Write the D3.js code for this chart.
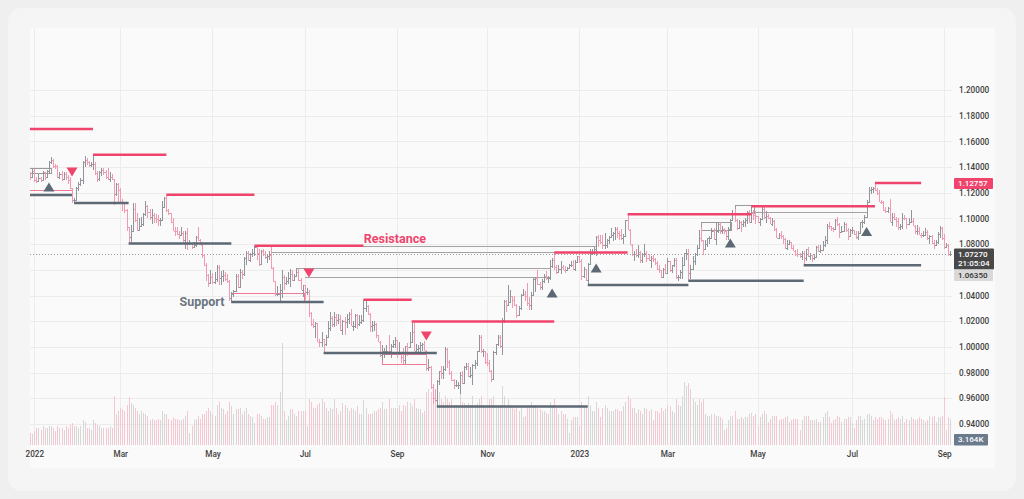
<!DOCTYPE html>
<html><head><meta charset="utf-8">
<script src="https://cdn.jsdelivr.net/npm/d3@7"></script>
<style>
html,body{margin:0;padding:0;background:#efefef;}
svg{display:block;font-family:Roboto,"Noto Sans",Arial,sans-serif;}
</style></head><body>
<svg id="chart" width="1024" height="499"></svg>
<script>
// ---------- DATA (daily EURUSD bars: [close, high, low, volume], prices in 1e-4 units) ----------
const firstOpen = 11325;
const m2021_12 = [[11310,11345,11300,40],[11350,11370,11300,45],[11325,11360,11300,40],[11370,11385,11315,35]];
const m2022_01 = [[11300,11386,11280,45],[11289,11320,11273,55],[11313,11346,11285,55],[11296,11320,11285,50],[11360,11370,11290,60],
[11326,11360,11300,55],[11367,11375,11312,55],[11440,11447,11355,60],[11455,11482,11425,60],[11410,11465,11395,55],
[11408,11425,11385,45],[11325,11415,11315,60],[11345,11365,11310,55],[11311,11370,11295,55],[11345,11365,11300,50],
[11325,11365,11300,60],[11300,11340,11265,55],[11240,11320,11230,65],[11145,11240,11122,70],[11145,11160,11121,60],
[11235,11245,11140,60]];
const m2022_02 = [[11270,11280,11215,55],[11300,11315,11250,60],[11440,11451,11270,80],[11455,11483,11400,75],
[11440,11470,11415,55],[11415,11450,11400,55],[11425,11440,11400,50],[11425,11495,11375,80],[11350,11440,11340,70],
[11305,11370,11280,65],[11360,11370,11290,60],[11375,11395,11330,55],[11360,11395,11335,55],[11320,11375,11310,55],
[11310,11395,11300,55],[11325,11360,11285,60],[11310,11345,11300,55],[11190,11275,11106,160],[11270,11275,11175,100],
[11220,11275,11120,110]];
const m2022_03 = [[11125,11235,11110,120],[11120,11150,11055,115],[11065,11125,11040,110],[10930,11070,10900,130],
[10855,10935,10806,155],[10905,10950,10820,135],[11075,11120,10900,130],[10985,11120,10975,120],[10910,11045,10905,110],
[10940,11000,10900,100],[10955,11010,10930,110],[11035,11045,10940,105],[11095,11135,11020,100],[11050,11105,11000,95],
[11015,11070,10990,80],[11030,11070,10960,85],[11005,11040,10965,80],[10995,11035,10965,80],[10985,11030,10945,85],
[10985,11000,10945,80],[11090,11135,10980,110],[11160,11170,11090,100],[11065,11185,11050,100]];
const m2022_04 = [[11045,11075,11025,85],[10970,11045,10965,80],[10905,11000,10900,90],[10900,10935,10865,85],[10880,10935,10870,85],[10875,10905,10840,80],
[10885,10935,10860,80],[10830,10905,10815,85],[10890,10900,10760,95],[10810,10925,10757,110],[10810,10830,10795,40],
[10780,10810,10760,60],[10790,10820,10770,80],[10855,10865,10780,85],[10835,10935,10825,95],[10795,10840,10790,85],
[10715,10815,10695,100],[10640,10725,10630,100],[10560,10650,10515,110],[10500,10570,10470,120],[10545,10595,10490,110]];
const m2022_05 = [[10505,10575,10490,100],[10525,10580,10490,95],[10620,10640,10505,130],[10540,10640,10485,140],[10550,10590,10485,120],
[10560,10595,10505,115],[10530,10580,10510,100],[10515,10565,10500,110],[10380,10520,10355,140],[10410,10425,10349,125],
[10435,10445,10390,100],[10550,10565,10430,115],[10465,10565,10460,115],[10585,10605,10460,120],[10565,10595,10530,100],
[10690,10700,10555,110],[10735,10750,10640,120],[10680,10750,10670,100],[10725,10735,10660,95],[10730,10765,10700,90],
[10780,10787,10710,70],[10735,10775,10680,100]];
const m2022_06 = [[10645,10765,10627,100],[10750,10755,10640,95],[10720,10765,10705,85],
[10700,10750,10685,85],[10705,10725,10655,90],[10715,10748,10680,90],[10615,10775,10610,130],[10515,10625,10505,130],
[10410,10510,10400,140],[10415,10475,10395,130],[10445,10490,10359,170],[10545,10600,10380,330],[10495,10560,10445,110],
[10515,10545,10480,80],[10535,10580,10490,95],[10565,10605,10470,115],[10520,10595,10510,115],[10555,10570,10510,100],
[10585,10615,10545,95],[10520,10605,10510,110],[10445,10535,10440,110],[10485,10485,10385,110]];
const m2022_07 = [[10425,10485,10365,110],
[10425,10460,10405,60],[10265,10445,10235,150],[10180,10275,10162,140],[10160,10215,10145,120],[10185,10195,10070,120],
[10040,10175,10035,130],[10035,10065,10000,135],[10060,10120,9998,150],[10020,10065,9952,140],[10080,10095,10005,120],
[10145,10200,10070,110],[10225,10270,10125,120],[10180,10240,10155,115],[10230,10275,10155,150],[10210,10255,10165,120],
[10220,10255,10180,100],[10135,10250,10125,110],[10200,10210,10095,135],[10195,10235,10095,130],[10220,10255,10150,120]];
const m2022_08 = [[10260,10275,10180,110],[10165,10295,10160,120],[10165,10200,10125,115],[10245,10255,10150,110],[10180,10255,10140,125],
[10195,10245,10165,100],[10210,10250,10180,100],[10300,10368,10195,145],[10320,10368,10270,120],[10260,10330,10250,100],
[10160,10265,10120,100],[10170,10200,10120,105],[10180,10200,10125,110],[10090,10190,10070,110],[10040,10090,10035,115],
[9940,10045,9925,120],[9970,10015,9901,140],[9970,9990,9910,115],[9970,10015,9940,115],[9965,10090,9945,150],
[10005,10025,9915,120],[10020,10055,9990,120],[10055,10080,9990,120]];
const m2022_09 = [[9945,10055,9910,120],[9955,10035,9945,130],
[9925,9935,9876,110],[9900,9990,9865,130],[10005,10010,9865,125],[10000,10030,9930,140],[10040,10113,9995,135],
[10120,10198,10040,125],[9970,10190,9965,150],[9980,10020,9955,120],[9995,10015,9955,115],[10015,10035,9945,115],
[10025,10030,9965,105],[9970,10050,9965,110],[9835,9975,9810,170],[9840,9905,9810,180],[9690,9850,9670,170],
[9605,9710,9555,190],[9590,9670,9575,160],[9735,9740,9536,200],[9815,9815,9705,170],[9800,9855,9750,150]];
const m2022_10 = [[9825,9855,9750,140],[9985,9999,9810,160],[9885,9995,9835,150],[9795,9895,9785,140],[9740,9810,9735,150],
[9705,9750,9670,130],[9705,9740,9685,130],[9705,9730,9670,125],[9780,9805,9632,170],[9720,9810,9710,140],
[9840,9855,9725,135],[9855,9875,9820,130],[9775,9875,9765,135],[9785,9845,9755,130],[9860,9870,9705,160],
[9875,9900,9830,130],[9965,9970,9850,135],[10080,10093,9965,150],[9965,10094,9955,160],[9965,9985,9925,130],
[9880,9970,9870,120]];
const m2022_11 = [[9875,9955,9855,120],[9815,9895,9805,150],[9750,9820,9730,150],[9960,9965,9745,160],
[10020,10025,9935,120],[10075,10095,10005,125],[10010,10095,9990,130],[10210,10225,9935,190],[10355,10365,10185,160],
[10325,10365,10270,120],[10350,10481,10325,150],[10395,10440,10350,130],[10365,10400,10300,125],[10325,10395,10320,115],
[10245,10335,10222,120],[10305,10315,10240,110],[10405,10415,10285,120],[10410,10450,10395,90],[10400,10435,10355,95],
[10340,10495,10320,125],[10330,10390,10290,120],[10405,10430,10290,140]];
const m2022_12 = [[10525,10535,10395,130],[10535,10545,10430,130],
[10490,10595,10480,120],[10470,10505,10445,115],[10510,10530,10445,110],[10555,10565,10495,110],[10535,10590,10520,105],
[10535,10555,10500,100],[10630,10675,10520,140],[10680,10695,10615,130],[10625,10736,10595,150],[10585,10635,10565,120],
[10605,10635,10585,100],[10625,10665,10570,110],[10600,10640,10595,100],[10595,10630,10575,100],[10615,10625,10590,85],
[10640,10645,10610,40],[10640,10665,10620,80],[10610,10675,10600,90],[10660,10675,10590,90],[10705,10710,10655,90]];
const m2023_01 = [[10670,10710,10655,60],[10550,10685,10520,140],[10605,10625,10540,125],[10520,10610,10510,120],[10645,10650,10483,160],
[10730,10760,10640,130],[10735,10760,10715,110],[10760,10780,10725,110],[10855,10865,10710,140],[10830,10875,10780,120],
[10820,10875,10805,90],[10790,10875,10765,120],[10795,10885,10765,130],[10830,10840,10770,120],[10855,10860,10800,110],
[10870,10925,10855,110],[10885,10895,10825,110],[10915,10930,10835,115],[10890,10930,10850,115],[10870,10905,10835,110],
[10845,10915,10835,110],[10865,10880,10800,125]];
const m2023_02 = [[10990,10990,10860,140],[10910,11033,10910,160],[10795,10915,10790,150],
[10725,10800,10710,120],[10725,10750,10670,120],[10715,10760,10700,105],[10740,10790,10690,115],[10680,10745,10655,110],
[10725,10735,10655,100],[10735,10805,10700,120],[10690,10745,10660,115],[10675,10725,10665,110],[10695,10705,10615,115],
[10685,10715,10660,80],[10650,10695,10635,110],[10605,10665,10595,110],[10595,10640,10575,105],[10545,10595,10535,120],
[10605,10615,10533,110],[10575,10645,10570,115]];
const m2023_03 = [[10665,10690,10565,130],[10595,10670,10580,125],[10635,10640,10575,110],
[10680,10695,10625,105],[10545,10695,10525,150],[10545,10560,10516,130],[10580,10595,10525,125],[10640,10700,10525,160],
[10730,10735,10655,205],[10735,10760,10675,190],[10575,10760,10516,200],[10610,10635,10525,180],[10670,10705,10610,150],
[10720,10730,10635,140],[10770,10790,10705,130],[10850,10910,10760,150],[10830,10930,10815,140],[10760,10835,10715,150],
[10800,10835,10760,100],[10845,10850,10775,95],[10845,10860,10800,95],[10905,10925,10840,100],[10840,10925,10835,100]];
const m2023_04 = [[10900,10920,10790,95],[10955,10975,10885,95],[10905,10970,10880,90],[10920,10940,10880,85],[10900,10925,10880,50],
[10860,10910,10830,55],[10915,10930,10835,80],[10990,10995,10905,95],[11045,11065,10985,95],[10990,11075,10970,110],
[10925,10995,10910,85],[10970,10990,10925,85],[10955,10980,10895,90],[10970,10990,10935,85],[10990,11000,10935,90],
[11050,11055,10960,90],[10975,11065,10965,100],[11040,11095,10970,105],[11030,11065,10990,95],[11020,11055,10960,100]];
const m2023_05 = [[10975,11020,10965,60],[10995,11005,10940,90],[11070,11090,10985,100],[11010,11090,10995,110],[11020,11055,10965,100],
[11005,11035,10995,75],[10960,11010,10955,85],[10980,11000,10940,95],[10915,10990,10900,95],[10850,10925,10845,95],
[10875,10890,10840,80],[10860,10905,10840,85],[10840,10875,10800,85],[10770,10850,10760,90],[10805,10830,10755,95],
[10815,10830,10790,75],[10770,10815,10760,80],[10750,10795,10745,85],[10725,10755,10705,85],[10720,10760,10700,85],
[10705,10735,10690,50],[10735,10745,10675,80],[10690,10745,10635,95]];
const m2023_06 = [[10760,10765,10665,95],[10710,10780,10700,95],
[10715,10730,10675,80],[10690,10715,10660,80],[10700,10720,10675,80],[10780,10785,10690,85],[10750,10790,10740,75],
[10755,10790,10730,75],[10790,10825,10745,90],[10830,10865,10775,105],[10945,10955,10800,110],[10940,10970,10915,90],
[10925,10940,10905,70],[10915,10935,10895,80],[10985,10995,10910,85],[10955,11012,10940,95],[10895,10965,10845,90],
[10905,10940,10885,75],[10960,10975,10895,85],[10910,10965,10895,85],[10865,10925,10835,90],[10910,10915,10865,90]];
const m2023_07 = [[10910,10935,10880,70],[10880,10910,10870,55],[10855,10900,10840,80],[10890,10905,10833,95],[10970,10975,10880,95],
[10970,10990,10925,80],[11010,11025,10960,85],[11130,11140,11000,100],[11225,11245,11125,100],[11230,11245,11190,95],
[11235,11245,11195,80],[11225,11276,11210,90],[11200,11240,11180,85],[11130,11225,11125,90],[11125,11145,11110,90],
[11065,11135,11055,85],[11055,11090,11045,80],[11085,11090,11040,85],[10975,11150,10975,110],[11015,11040,10945,100],
[10995,11045,10985,80]];
const m2023_08 = [[10980,11010,10935,85],[10935,11000,10910,90],[10945,10960,10910,85],[11005,11040,10915,95],
[11000,11025,10990,75],[10955,11005,10915,85],[10975,11000,10955,80],[10980,11065,10965,90],[10945,11005,10945,85],
[10905,10950,10880,80],[10905,10950,10875,85],[10875,10935,10870,90],[10870,10890,10850,85],[10870,10900,10855,80],
[10895,10925,10870,75],[10845,10910,10835,80],[10860,10870,10800,95],[10810,10875,10805,90],[10795,10835,10765,95],
[10815,10830,10785,75],[10880,10895,10805,90],[10925,10945,10850,90],[10845,10935,10835,95]];
const m2023_09 = [[10775,10880,10765,155],[10795,10810,10775,50],[10725,10805,10705,90],[10725,10745,10705,85],[10727,10745,10700,55]];

// price axis ticks & time axis ticks
const priceTicks = [0.94,0.96,0.98,1.00,1.02,1.04,1.06,1.08,1.10,1.12,1.14,1.16,1.18,1.20];
const timeTicks = ["2022-01-03","2022-03-01","2022-05-02","2022-07-01","2022-09-01","2022-11-01","2023-01-02","2023-03-01","2023-05-01","2023-07-03","2023-09-01"];
const timeLabels = ["2022","Mar","May","Jul","Sep","Nov","2023","Mar","May","Jul","Sep"];

// annotations: [from, to, price]
const resistanceLines = [
 ["2021-12-28","2022-02-10",1.1696],["2022-02-10","2022-03-31",1.1495],["2022-03-31","2022-05-30",1.1185],
 ["2022-05-30","2022-08-10",1.0787],["2022-08-10","2022-09-12",1.0368],["2022-09-12","2022-12-15",1.0198],
 ["2022-12-15","2023-02-02",1.0736],["2023-02-02","2023-04-26",1.1033],["2023-04-26","2023-07-18",1.1095],
 ["2023-07-18","2023-08-17",1.1276]];
const supportLines = [
 ["2021-12-28","2022-01-27",1.1183],["2022-01-28","2022-03-07",1.1121],["2022-03-07","2022-05-13",1.0806],
 ["2022-05-13","2022-07-14",1.0349],["2022-07-14","2022-09-28",0.9952],["2022-09-28","2023-01-06",0.9536],
 ["2023-01-06","2023-03-15",1.0483],["2023-03-15","2023-05-31",1.0516],["2023-05-31","2023-08-17",1.0635]];
const rangeLines = [
 ["2022-08-10","2023-01-12",1.0787],["2022-06-09","2022-12-15",1.0736],["2022-06-27","2022-12-13",1.0614],
 ["2022-07-01","2022-12-13",1.0544],["2023-04-26","2023-07-12",1.1050]];
const grayBoxes = [
 ["2021-12-28","2022-01-13",1.1393,1.1354],["2023-03-23","2023-04-03",1.0972,1.0910],
 ["2023-04-03","2023-04-12",1.0972,1.0910],["2023-04-14","2023-04-27",1.1105,1.1043]];
const pinkBoxes = [
 ["2022-05-13","2022-07-01",1.0420,1.0349],["2022-08-23","2022-09-21",0.9945,0.9867]];
const pinkLines = [["2021-12-28","2022-01-27",1.1222]];
const upMarks = [["2022-01-12",1.1245],["2022-12-14",1.0420],["2023-01-12",1.0614],["2023-04-12",1.0809],["2023-07-12",1.0898]];
const downMarks = [["2022-01-27",1.1362],["2022-07-05",1.0575],["2022-09-21",1.0085]];
const noteLabels = [["Resistance","2022-08-31",1.0842,"res"],["Support","2022-04-25",1.0352,"sup"]];

const lastPrice = 1.07270, lastTime = "21:05:04", highTag = 1.12757, lowTag = 1.06350, volTag = "3.164K";

// ---------- BUILD ----------
const parse = d3.utcParse("%Y-%m-%d");
const blocks = [["2021-12-28",m2021_12],["2022-01-01",m2022_01],["2022-02-01",m2022_02],["2022-03-01",m2022_03],
 ["2022-04-01",m2022_04],["2022-05-01",m2022_05],["2022-06-01",m2022_06],["2022-07-01",m2022_07],["2022-08-01",m2022_08],
 ["2022-09-01",m2022_09],["2022-10-01",m2022_10],["2022-11-01",m2022_11],["2022-12-01",m2022_12],["2023-01-01",m2023_01],
 ["2023-02-01",m2023_02],["2023-03-01",m2023_03],["2023-04-01",m2023_04],["2023-05-01",m2023_05],["2023-06-01",m2023_06],
 ["2023-07-01",m2023_07],["2023-08-01",m2023_08],["2023-09-01",m2023_09]];
const bars = [];
let prev = firstOpen/1e4;
blocks.forEach(([start, rows]) => {
  const s = parse(start);
  const e = d3.utcMonth.offset(d3.utcMonth.floor(s), 1);
  const days = d3.utcDay.range(s, e).filter(d => d.getUTCDay() !== 0 && d.getUTCDay() !== 6);
  rows.forEach((r, i) => {
    if (!days[i]) return;
    const o = prev, c = r[0]/1e4;
    bars.push({date: days[i], o, c, h: Math.max(r[1]/1e4, o, c), l: Math.min(r[2]/1e4, o, c), v: r[3]});
    prev = c;
  });
});

const X0 = 25.9, STEP = 2.0965;
const PL = 30, PR = 952, PT = 28, PB = 445;
const x = d3.scaleUtc().domain(bars.map(d => d.date)).range(bars.map((d, i) => X0 + i*STEP));
const y = d3.scaleLinear().domain([0.94, 1.20]).range([424, 90]);
const yv = d3.scaleLinear().domain([0, 330]).range([PB, 343]);
const xd = s => x(parse(s));

const RED = "#f0446c", SLATE = "#5d6975", UP = "#8f959b", DOWN = "#f29ab0";
const svg = d3.select("#chart");
svg.append("rect").attr("width",1024).attr("height",499).attr("fill","#efefef");
svg.append("rect").attr("x",8).attr("y",8).attr("width",1008).attr("height",483).attr("rx",14).attr("fill","#f5f5f5");
svg.append("rect").attr("x",PL).attr("y",PT).attr("width",965).attr("height",440).attr("fill","#fafafa");

svg.append("defs").append("clipPath").attr("id","plot").append("rect")
  .attr("x",PL).attr("y",PT).attr("width",PR-PL).attr("height",PB-PT);

// grid
const grid = svg.append("g").attr("stroke","#ececec").attr("stroke-width",1).attr("shape-rendering","crispEdges");
grid.selectAll(".h").data(priceTicks).join("line").attr("x1",PL).attr("x2",PR)
  .attr("y1",d=>Math.round(y(d))+0.5).attr("y2",d=>Math.round(y(d))+0.5);
grid.selectAll(".v").data(timeTicks).join("line").attr("y1",PT).attr("y2",PB)
  .attr("x1",d=>Math.round(xd(d))+0.5).attr("x2",d=>Math.round(xd(d))+0.5);

const plot = svg.append("g").attr("clip-path","url(#plot)");

// volume
plot.append("g").attr("shape-rendering","crispEdges").selectAll("line").data(bars).join("line")
  .attr("x1",d=>Math.round(x(d.date))+0.5).attr("x2",d=>Math.round(x(d.date))+0.5)
  .attr("y1",yv(0)).attr("y2",d=>yv(d.v))
  .attr("stroke",d=>d.c>=d.o?"#d7d7d7":"#f6c6d1").attr("stroke-width",1);

// last price dotted line
plot.append("line").attr("x1",PL).attr("x2",PR).attr("y1",Math.round(y(lastPrice))+0.5).attr("y2",Math.round(y(lastPrice))+0.5)
  .attr("stroke","#9a9a9a").attr("stroke-dasharray","1,2");

// thin range lines & boxes
const thin = plot.append("g").attr("fill","none").attr("shape-rendering","crispEdges");
thin.selectAll(".rl").data(rangeLines).join("line")
  .attr("x1",d=>xd(d[0])).attr("x2",d=>xd(d[1])).attr("y1",d=>Math.round(y(d[2]))+0.5).attr("y2",d=>Math.round(y(d[2]))+0.5)
  .attr("stroke","#a3a3a3");
thin.selectAll(".gb").data(grayBoxes).join("rect")
  .attr("x",d=>Math.round(xd(d[0]))+0.5).attr("y",d=>Math.round(y(d[2]))+0.5)
  .attr("width",d=>Math.round(xd(d[1])-xd(d[0]))).attr("height",d=>Math.round(y(d[3])-y(d[2])))
  .attr("stroke","#9a9a9a");
thin.selectAll(".pb").data(pinkBoxes).join("rect")
  .attr("x",d=>Math.round(xd(d[0]))+0.5).attr("y",d=>Math.round(y(d[2]))+0.5)
  .attr("width",d=>Math.round(xd(d[1])-xd(d[0]))).attr("height",d=>Math.round(y(d[3])-y(d[2])))
  .attr("stroke","#f07a95");
thin.selectAll(".pl").data(pinkLines).join("line")
  .attr("x1",d=>xd(d[0])).attr("x2",d=>xd(d[1])).attr("y1",d=>Math.round(y(d[2]))+0.5).attr("y2",d=>Math.round(y(d[2]))+0.5)
  .attr("stroke","#f07a95");

// OHLC bars
plot.append("g").attr("shape-rendering","crispEdges").attr("fill","none").selectAll("path").data(bars).join("path")
  .attr("d", d => {
    const xi = Math.round(x(d.date)) + 0.5;
    const yo = Math.round(y(d.o)) + 0.5, yc = Math.round(y(d.c)) + 0.5;
    return `M${xi},${y(d.h)}V${y(d.l)}M${xi-1.5},${yo}H${xi}M${xi},${yc}H${xi+1.5}`;
  })
  .attr("stroke", d => d.c >= d.o ? UP : DOWN).attr("stroke-width",1);

// thick levels
const lev = plot.append("g");
lev.selectAll(".r").data(resistanceLines).join("line")
  .attr("x1",d=>xd(d[0])).attr("x2",d=>xd(d[1])).attr("y1",d=>y(d[2])).attr("y2",d=>y(d[2]))
  .attr("stroke",RED).attr("stroke-width",2.5);
lev.selectAll(".s").data(supportLines).join("line")
  .attr("x1",d=>xd(d[0])).attr("x2",d=>xd(d[1])).attr("y1",d=>y(d[2])).attr("y2",d=>y(d[2]))
  .attr("stroke",SLATE).attr("stroke-width",2.5);

// markers
plot.append("g").selectAll("path").data(upMarks).join("path")
  .attr("transform",d=>`translate(${xd(d[0])},${y(d[1])})`).attr("d","M0,-4.5L5.5,4.5L-5.5,4.5Z").attr("fill",SLATE);
plot.append("g").selectAll("path").data(downMarks).join("path")
  .attr("transform",d=>`translate(${xd(d[0])},${y(d[1])})`).attr("d","M0,4.5L5.5,-4.5L-5.5,-4.5Z").attr("fill",RED);

// labels
plot.append("g").selectAll("text").data(noteLabels).join("text")
  .attr("x",d=>xd(d[1])).attr("y",d=>y(d[2])).attr("text-anchor","middle").attr("dy","0.35em")
  .attr("font-size",12.5).attr("font-weight",700).attr("fill",d=>d[3]==="res"?RED:"#6b7681").text(d=>d[0]);

// price tag geometry (tags cover the axis labels they sit on)
const lastY = Math.round(y(lastPrice));
const tagBoxes = [
  {y0: y(highTag)-5, h: 11, bg: RED, fg: "#ffffff", lines: [d3.format(".5f")(highTag)], w: 39},
  {y0: lastY-5.5, h: 21, bg: "#484848", fg: "#ffffff", lines: [d3.format(".5f")(lastPrice), lastTime], w: 40},
  {y0: lastY+15.5, h: 11.5, bg: "#d9d9d9", fg: "#333333", lines: [d3.format(".5f")(lowTag)], w: 39},
  {y0: 434, h: 11.5, bg: "#6b7b8b", fg: "#ffffff", lines: [volTag], w: 34}
];
const hiddenTick = v => tagBoxes.some(t => y(v) > t.y0 + 1 && y(v) < t.y0 + t.h + 3);

// axes
const ya = svg.append("g").attr("transform",`translate(${PR},0)`)
  .call(d3.axisRight(y).tickValues(priceTicks.filter(v => !hiddenTick(v))).tickFormat(d3.format(".5f")).tickSize(0).tickPadding(7));
ya.select(".domain").remove();
ya.selectAll("text").attr("font-family","Roboto, sans-serif").attr("font-size",8.2).attr("font-weight",500).attr("fill","#3f3f3f");

const xa = svg.append("g").attr("transform",`translate(0,${PB})`)
  .call(d3.axisBottom(x).tickValues(timeTicks.map(parse)).tickFormat((d,i)=>timeLabels[i]).tickSize(0).tickPadding(6));
xa.select(".domain").remove();
xa.selectAll("text").attr("font-family","Roboto, sans-serif").attr("font-size",8.2).attr("font-weight",500).attr("fill","#3f3f3f");

// price tags
const tags = svg.append("g").attr("font-size",8).attr("font-weight",500);
tagBoxes.forEach(t => {
  tags.append("rect").attr("x",954).attr("y",t.y0).attr("width",t.w).attr("height",t.h).attr("fill",t.bg).attr("rx",1);
  t.lines.forEach((s,i)=>tags.append("text").attr("x",958).attr("y",t.y0 + 8.2 + i*9.6).attr("fill",t.fg).text(s));
});
</script></body></html>
